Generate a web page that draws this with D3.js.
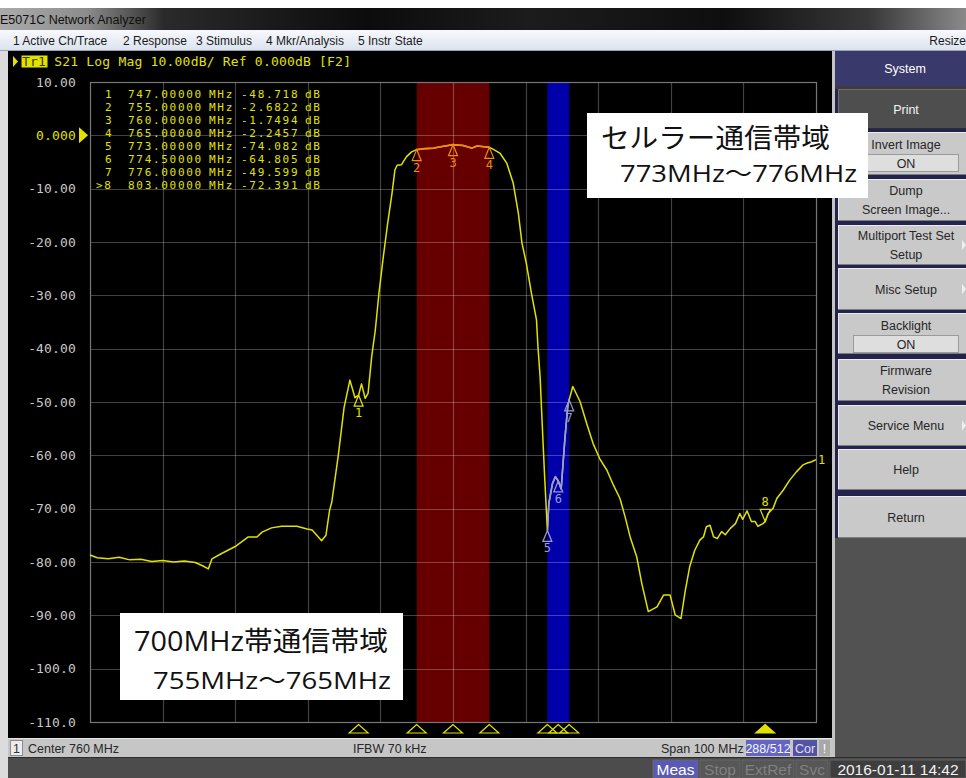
<!DOCTYPE html>
<html>
<head>
<meta charset="utf-8">
<script src="https://cdn.jsdelivr.net/npm/d3@7"></script>
<style>
  html, body { margin: 0; padding: 0; background: #ffffff; }
  svg { display: block; }
</style>
</head>
<body>
<svg id="screen" width="966" height="778"></svg>
<script>
// ---- S21 transmission trace (frequency in MHz, magnitude in dB) ----
const traceFreq = [710,711,712.5,714,715.5,717,718.5,720,721.5,723,724.5,725.5,726.3,726.8,728,730,731.8,733,733.7,735,
  736.4,738.5,739.9,740.6,741.9,742.5,743,743.3,744.2,745,745.8,746.5,747,747.4,747.9,748.3,748.8,749.3,749.8,750.4,
  751,751.6,752,752.3,752.9,753.6,754.3,755,756,757.3,758.5,760,761.4,762.6,763.3,765,765.5,766.5,767.4,768.3,
  769,769.5,770.1,770.8,771.5,771.7,772,772.2,772.6,773,773.2,773.7,774.1,774.5,774.9,775.4,775.8,776,776.5,777.5,
  778.4,779.3,780.2,781.2,782.1,783,783.7,784.4,785.3,786,786.9,788.1,789,789.9,790.6,791.4,792,792.6,793.3,794,
  794.5,794.9,795.4,795.9,796.4,797,797.5,798.2,798.9,799.5,799.9,800.5,801.1,801.6,802,802.7,803,803.4,804.1,804.6,
  805.5,806.4,807.3,808.2,808.7,809.4,810];
const traceDb = [-78.7,-79.2,-79.4,-79.1,-79.6,-79.5,-79.9,-79.7,-80.0,-79.8,-80.1,-80.7,-81.3,-79.4,-78.5,-77.1,-75.3,-75.3,-74.4,-73.6,
  -73.3,-73.3,-73.8,-74.0,-76.0,-75.0,-70.3,-68.8,-60.0,-51.0,-45.9,-49.2,-48.718,-46.6,-49.3,-48.4,-41.5,-36.5,-29.6,-22.8,
  -16.5,-10.9,-6.5,-5.6,-5.5,-4.0,-3.1,-2.6822,-2.5,-2.4,-2.1,-1.7494,-1.9,-2.4,-2.0,-2.2457,-2.6,-3.4,-5.2,-9.0,
  -14.6,-20.2,-24.0,-29.6,-34.6,-39.6,-45.3,-51.5,-63.4,-74.082,-69.0,-65.3,-64.0,-64.805,-66.3,-57.1,-50.9,-49.599,-47.1,-49.9,
  -54.0,-57.8,-60.6,-62.8,-65.6,-68.1,-71.5,-75.3,-79.0,-84.0,-89.3,-88.4,-86.2,-86.2,-89.9,-90.6,-85.3,-80.9,-77.8,-75.9,
  -75.3,-73.4,-73.1,-75.3,-75.6,-74.3,-74.9,-73.7,-72.8,-70.9,-72.0,-70.4,-72.4,-72.4,-73.3,-72.8,-72.391,-70.9,-69.9,-68.1,
  -66.5,-64.6,-63.1,-61.8,-61.5,-61.2,-60.8];

// ---- markers ----
const markerIds = ["1", "2", "3", "4", "5", "6", "7", "8"];
const markerFreq = [747, 755, 760, 765, 773, 774.5, 776, 803];
const markerDb = [-48.718, -2.6822, -1.7494, -2.2457, -74.082, -64.805, -49.599, -72.391];
const markerFreqText = ["747.00000", "755.00000", "760.00000", "765.00000", "773.00000", "774.50000", "776.00000", "803.00000"];
const markerDbText = ["-48.718", "-2.6822", "-1.7494", "-2.2457", "-74.082", "-64.805", "-49.599", "-72.391"];
const activeMarker = "8";

// ---- axes ----
const xTicks = [710, 720, 730, 740, 750, 760, 770, 780, 790, 800, 810];
const yTicks = [10, 0, -10, -20, -30, -40, -50, -60, -70, -80, -90, -100, -110];
const yTickLabels = ["10.00", "0.000", "-10.00", "-20.00", "-30.00", "-40.00", "-50.00", "-60.00", "-70.00", "-80.00", "-90.00", "-100.0", "-110.0"];

// ---- highlighted frequency bands (MHz) ----
const bandNames = ["700MHz帯通信帯域", "セルラー通信帯域"];
const bandStart = [755, 773];
const bandEnd = [765, 776];

// ---- instrument texts ----
const menuItems = ["1 Active Ch/Trace", "2 Response", "3 Stimulus", "4 Mkr/Analysis", "5 Instr State"];
const headerText = "S21 Log Mag 10.00dB/ Ref 0.000dB [F2]";
const statusTexts = ["Center 760 MHz", "IFBW 70 kHz", "Span 100 MHz"];

const svg = d3.select("#screen");
const W = 966, H = 778;
const MONO = "'DejaVu Sans Mono', 'Liberation Mono', monospace";
const UI = "'Liberation Sans', Arial, sans-serif";
const TRACE = "#e2e200";
const BAND_FILL = ["#660000", "#0000aa"];     // band backgrounds
const BAND_TRACE = ["#f08a10", "#9c9cd0"];    // trace colour seen through each band

const defs = svg.append("defs");
const tg = defs.append("linearGradient").attr("id", "titleGrad").attr("x1", 0).attr("x2", 1).attr("y1", 0).attr("y2", 0);
[[0, "#ababab"], [0.09, "#8c8c8c"], [0.17, "#2a2a2a"], [0.38, "#0c0c0c"], [0.55, "#1c1c1c"], [0.75, "#0e0e0e"], [0.9, "#383838"], [1, "#8a8a8a"]]
  .forEach(([o, c]) => tg.append("stop").attr("offset", o).attr("stop-color", c));
const mg = defs.append("linearGradient").attr("id", "menuGrad").attr("x1", 0).attr("x2", 0).attr("y1", 0).attr("y2", 1);
[[0, "#f7f9fd"], [1, "#dce3ee"]].forEach(([o, c]) => mg.append("stop").attr("offset", o).attr("stop-color", c));

// ---------- window chrome ----------
svg.append("rect").attr("x", 0).attr("y", 0).attr("width", W).attr("height", H).attr("fill", "#dcdcdc");
svg.append("rect").attr("x", 0).attr("y", 0).attr("width", W).attr("height", 8).attr("fill", "#ffffff");
svg.append("rect").attr("x", 0).attr("y", 8).attr("width", W).attr("height", 22).attr("fill", "url(#titleGrad)");
svg.append("text").attr("x", 0).attr("y", 24).attr("font-family", UI).attr("font-size", 12.5)
  .attr("fill", "#101010").text("E5071C Network Analyzer");

svg.append("rect").attr("x", 0).attr("y", 30).attr("width", W).attr("height", 20).attr("fill", "url(#menuGrad)");
svg.append("line").attr("x1", 0).attr("x2", W).attr("y1", 50.5).attr("y2", 50.5).attr("stroke", "#9aa3b3");
const menuX = [13, 123, 196, 266, 358];
svg.append("g").selectAll("text").data(menuItems).join("text")
  .attr("x", (d, i) => menuX[i]).attr("y", 45).attr("font-family", UI).attr("font-size", 12)
  .attr("fill", "#1a1a1a").text(d => d);
svg.append("text").attr("x", 966).attr("y", 45).attr("text-anchor", "end").attr("font-family", UI)
  .attr("font-size", 12).attr("fill", "#1a1a1a").text("Resize");

// ---------- display area ----------
svg.append("rect").attr("x", 8).attr("y", 51).attr("width", 824).attr("height", 687).attr("fill", "#000000");
svg.append("rect").attr("x", 832).attr("y", 51).attr("width", 3).attr("height", 707).attr("fill", "#c4c4c4");

// header line
const hdr = svg.append("g");
hdr.append("path").attr("d", "M13,56 L18,61.5 L13,67 Z").attr("fill", TRACE);
hdr.append("rect").attr("x", 21.5).attr("y", 55.5).attr("width", 26).attr("height", 12).attr("fill", TRACE);
hdr.append("text").attr("x", 22).attr("y", 66).attr("font-family", MONO).attr("font-size", 13)
  .attr("letter-spacing", 0.2).attr("fill", "#3a3a00").text("Tr1");
hdr.append("text").attr("x", 54.2).attr("y", 66).attr("font-family", MONO).attr("font-size", 13)
  .attr("letter-spacing", 0.2).attr("fill", TRACE).text(headerText);

// scales
const x = d3.scaleLinear().domain([710, 810]).range([90, 816]);
const y = d3.scaleLinear().domain([10, -110]).range([82, 722]);

// highlighted bands (under the graticule and trace)
svg.append("g").selectAll("rect").data(bandStart).join("rect")
  .attr("x", d => x(d)).attr("width", (d, i) => x(bandEnd[i]) - x(d))
  .attr("y", y(10) + 1).attr("height", y(-110) - y(10) - 1)
  .attr("fill", (d, i) => BAND_FILL[i]);

// grid
const grid = svg.append("g");
grid.selectAll("line.v").data(xTicks.slice(1, -1)).join("line").attr("class", "v")
  .attr("x1", d => Math.round(x(d)) + 0.5).attr("x2", d => Math.round(x(d)) + 0.5)
  .attr("y1", y(10)).attr("y2", y(-110)).attr("stroke", "#ffffff").attr("stroke-opacity", 0.26).attr("stroke-width", 1.2);
grid.selectAll("line.h").data(yTicks.slice(1, -1)).join("line").attr("class", "h")
  .attr("x1", x(710)).attr("x2", x(810))
  .attr("y1", d => Math.round(y(d)) + 0.5).attr("y2", d => Math.round(y(d)) + 0.5)
  .attr("stroke", "#ffffff").attr("stroke-opacity", 0.26).attr("stroke-width", 1.2);
grid.append("rect").attr("x", x(710) + 0.5).attr("y", y(10) + 0.5)
  .attr("width", x(810) - x(710)).attr("height", y(-110) - y(10))
  .attr("fill", "none").attr("stroke", "#777777").attr("stroke-width", 1.2);

// y axis labels
const yAxis = d3.axisLeft(y).tickValues(yTicks).tickFormat((d, i) => yTickLabels[i]).tickSize(0).tickPadding(14);
const yg = svg.append("g").attr("transform", `translate(${x(710)},0)`).call(yAxis);
yg.select(".domain").remove();
yg.selectAll("text").attr("font-family", MONO).attr("font-size", 13).attr("letter-spacing", 0.15)
  .attr("fill", d => d === 0 ? TRACE : "#c8c8c8");
// reference level pointer
svg.append("path").attr("d", `M79,${y(0) - 8} L88,${y(0)} L79,${y(0) + 8} Z`).attr("fill", TRACE);

// marker table
const table = svg.append("g").attr("font-family", MONO).attr("font-size", 11).attr("letter-spacing", 1.7).attr("fill", TRACE);
markerIds.forEach((id, i) => {
  const ty = 98 + i * 13;
  const row = table.append("text").attr("y", ty);
  row.append("tspan").attr("x", id === activeMarker ? 96 : 105).text(id === activeMarker ? ">" + id : id);
  row.append("tspan").attr("x", 128).text(markerFreqText[i]);
  row.append("tspan").attr("x", 209).text("MHz");
  row.append("tspan").attr("x", 241).text(markerDbText[i]);
  row.append("tspan").attr("x", 305).text("dB");
});

// trace, then the parts inside each band re-drawn in the tinted colour
const pts = traceFreq.map((f, i) => [f, traceDb[i]]);
const line = d3.line().x(d => x(d[0])).y(d => y(d[1]));
svg.append("path").datum(pts)
  .attr("d", line).attr("fill", "none").attr("stroke", TRACE).attr("stroke-width", 1.5)
  .attr("stroke-linejoin", "round");
bandStart.forEach((b, i) => {
  defs.append("clipPath").attr("id", "bandClip" + i).append("rect")
    .attr("x", x(b)).attr("width", x(bandEnd[i]) - x(b)).attr("y", y(10)).attr("height", y(-110) - y(10));
  svg.append("path").datum(pts).attr("clip-path", `url(#bandClip${i})`)
    .attr("d", line).attr("fill", "none").attr("stroke", BAND_TRACE[i]).attr("stroke-width", 1.6)
    .attr("stroke-linejoin", "round");
});
svg.append("text").attr("x", x(810) + 2).attr("y", y(traceDb[traceDb.length - 1]) + 4)
  .attr("font-family", MONO).attr("font-size", 12).attr("fill", TRACE).text("1");

// markers on the trace
function markerColor(f) {
  for (let i = 0; i < bandStart.length; i++) if (f >= bandStart[i] && f <= bandEnd[i]) return BAND_TRACE[i];
  return TRACE;
}
markerIds.forEach((id, i) => {
  const mx = x(markerFreq[i]), my = y(markerDb[i]);
  const c = markerColor(markerFreq[i]);
  if (id === activeMarker) {
    svg.append("path").attr("d", `M${mx},${my} L${mx - 5},${my - 12} L${mx + 5},${my - 12} Z`)
      .attr("fill", "none").attr("stroke", c).attr("stroke-width", 1.2);
    svg.append("text").attr("x", mx).attr("y", my - 15).attr("text-anchor", "middle")
      .attr("font-family", MONO).attr("font-size", 12).attr("fill", c).text(id);
  } else {
    svg.append("path").attr("d", `M${mx},${my} L${mx - 4.5},${my + 11} L${mx + 4.5},${my + 11} Z`)
      .attr("fill", "none").attr("stroke", c).attr("stroke-width", 1.2);
    svg.append("text").attr("x", mx).attr("y", my + 22).attr("text-anchor", "middle")
      .attr("font-family", MONO).attr("font-size", 12).attr("fill", c).text(id);
  }
});

// marker position indicators below the graticule
const ind = svg.append("g").attr("stroke", TRACE).attr("stroke-width", 1.2);
markerIds.forEach((id, i) => {
  const mx = x(markerFreq[i]);
  ind.append("path").attr("d", `M${mx},724.5 L${mx - 9.5},733 L${mx + 9.5},733 Z`)
    .attr("fill", id === activeMarker ? TRACE : "none");
});

// ---------- status bar ----------
svg.append("rect").attr("x", 8).attr("y", 738).attr("width", 824).attr("height", 19).attr("fill", "#c6c6c6");
svg.append("line").attr("x1", 8).attr("x2", 832).attr("y1", 738.5).attr("y2", 738.5).attr("stroke", "#e6e6e6");
svg.append("rect").attr("x", 10.5).attr("y", 740.5).attr("width", 12).attr("height", 15).attr("fill", "#ececec").attr("stroke", "#8c8c8c");
svg.append("text").attr("x", 16.5).attr("y", 752.5).attr("text-anchor", "middle").attr("font-family", UI)
  .attr("font-size", 12.5).attr("fill", "#333").text("1");
const statusX = [28, 353, 661];
svg.append("g").selectAll("text").data(statusTexts).join("text")
  .attr("x", (d, i) => statusX[i]).attr("y", 752.5).attr("font-family", UI).attr("font-size", 12.5)
  .attr("fill", "#262626").text(d => d);
svg.append("rect").attr("x", 746).attr("y", 740).attr("width", 44).attr("height", 16).attr("fill", "#6464c4");
svg.append("text").attr("x", 768).attr("y", 752.5).attr("text-anchor", "middle").attr("font-family", UI)
  .attr("font-size", 12.5).attr("fill", "#f4f4ff").text("288/512");
svg.append("rect").attr("x", 793).attr("y", 740).attr("width", 24).attr("height", 16).attr("fill", "#5252a6");
svg.append("text").attr("x", 805).attr("y", 752.5).attr("text-anchor", "middle").attr("font-family", UI)
  .attr("font-size", 12.5).attr("fill", "#e0e0f0").text("Cor");
svg.append("rect").attr("x", 819).attr("y", 740).attr("width", 11).attr("height", 16).attr("fill", "#a8a8a8");
svg.append("text").attr("x", 824.5).attr("y", 752.5).attr("text-anchor", "middle").attr("font-family", UI)
  .attr("font-size", 12.5).attr("fill", "#ffffff").text("!");

// bottom instrument bar
svg.append("rect").attr("x", 835).attr("y", 538).attr("width", 131).attr("height", 220).attr("fill", "#525252");
svg.append("rect").attr("x", 8).attr("y", 757).attr("width", 958).attr("height", 21).attr("fill", "#4c4c4c");
svg.append("line").attr("x1", 8).attr("x2", 966).attr("y1", 757.5).attr("y2", 757.5).attr("stroke", "#2c2c2c");
const bottomItems = [
  { t: "Meas", x0: 653, x1: 698, bg: "#5a5ab4", fg: "#ffffff" },
  { t: "Stop", x0: 700, x1: 740, bg: "#575757", fg: "#808080" },
  { t: "ExtRef", x0: 742, x1: 794, bg: "#575757", fg: "#808080" },
  { t: "Svc", x0: 796, x1: 828, bg: "#575757", fg: "#808080" },
  { t: "2016-01-11 14:42", x0: 830, x1: 966, bg: "#3e3e3e", fg: "#f2f2f2" }
];
bottomItems.forEach(b => {
  svg.append("rect").attr("x", b.x0).attr("y", 760).attr("width", b.x1 - b.x0).attr("height", 18)
    .attr("fill", b.bg).attr("stroke", "#6a6a6a").attr("stroke-width", 0.8);
  svg.append("text").attr("x", (b.x0 + b.x1) / 2).attr("y", 775).attr("text-anchor", "middle")
    .attr("font-family", UI).attr("font-size", 15.5).attr("fill", b.fg).text(b.t);
});

// ---------- softkey panel ----------
const panel = svg.append("g");
panel.append("rect").attr("x", 835).attr("y", 51).attr("width", 131).attr("height", 487).attr("fill", "#23234e");
panel.append("rect").attr("x", 835).attr("y", 51).attr("width", 131).attr("height", 35).attr("fill", "#39396c");
panel.append("text").attr("x", 905).attr("y", 73).attr("text-anchor", "middle").attr("font-family", UI)
  .attr("font-size", 12.5).attr("fill", "#ffffff").text("System");
panel.append("rect").attr("x", 835).attr("y", 86).attr("width", 131).attr("height", 3).attr("fill", "#3c3c3c");

const softkeys = [
  { y0: 89, y1: 129, lines: ["Print"], dark: true },
  { y0: 132, y1: 175, lines: ["Invert Image"], toggle: "ON" },
  { y0: 179, y1: 221, lines: ["Dump", "Screen Image..."] },
  { y0: 225, y1: 265, lines: ["Multiport Test Set", "Setup"], arrow: true },
  { y0: 268, y1: 310, lines: ["Misc Setup"], arrow: true },
  { y0: 313, y1: 354, lines: ["Backlight"], toggle: "ON" },
  { y0: 359, y1: 401, lines: ["Firmware", "Revision"] },
  { y0: 405, y1: 446, lines: ["Service Menu"], arrow: true },
  { y0: 449, y1: 490, lines: ["Help"] },
  { y0: 496, y1: 538, lines: ["Return"] }
];
softkeys.forEach(k => {
  const g = panel.append("g");
  g.append("rect").attr("x", 838).attr("y", k.y0).attr("width", 128).attr("height", k.y1 - k.y0)
    .attr("fill", k.dark ? "#4e4e4e" : "#c9c9c9");
  g.append("line").attr("x1", 838).attr("x2", 966).attr("y1", k.y0 + 0.5).attr("y2", k.y0 + 0.5)
    .attr("stroke", k.dark ? "#6e6e6e" : "#ececec");
  g.append("line").attr("x1", 838.5).attr("x2", 838.5).attr("y1", k.y0).attr("y2", k.y1)
    .attr("stroke", k.dark ? "#6e6e6e" : "#ececec");
  g.append("line").attr("x1", 838).attr("x2", 966).attr("y1", k.y1 - 0.5).attr("y2", k.y1 - 0.5)
    .attr("stroke", k.dark ? "#2e2e2e" : "#7c7c7c");
  const col = k.dark ? "#f4f4f4" : "#262626";
  const mid = (k.y0 + k.y1) / 2;
  if (k.toggle) {
    g.append("text").attr("x", 906).attr("y", k.y0 + 17).attr("text-anchor", "middle")
      .attr("font-family", UI).attr("font-size", 12.5).attr("fill", col).text(k.lines[0]);
    g.append("rect").attr("x", 853.5).attr("y", k.y0 + 22.5).attr("width", 105).attr("height", 17)
      .attr("fill", "#dedede").attr("stroke", "#9a9a9a");
    g.append("text").attr("x", 906).attr("y", k.y0 + 35.5).attr("text-anchor", "middle")
      .attr("font-family", UI).attr("font-size", 12.5).attr("fill", col).text(k.toggle);
  } else if (k.lines.length === 2) {
    k.lines.forEach((t, j) => g.append("text").attr("x", 906).attr("y", mid - 5 + j * 18.5)
      .attr("text-anchor", "middle").attr("font-family", UI).attr("font-size", 12.5).attr("fill", col).text(t));
  } else {
    g.append("text").attr("x", 906).attr("y", mid + 4.5).attr("text-anchor", "middle")
      .attr("font-family", UI).attr("font-size", 12.5).attr("fill", col).text(k.lines[0]);
  }
  if (k.arrow) {
    g.append("path").attr("d", `M962,${mid - 5} L966,${mid} L962,${mid + 5} Z`).attr("fill", "#efefef");
  }
});

// ---------- band captions ----------
const JP = "'Open Sans', 'Noto Sans CJK JP', sans-serif";
const captions = [
  { x0: 120, y0: 613, x1: 403, y1: 700, l1: bandNames[0], l1x: 134, l1w: 254, l2x: 153, l2w: 238, b1: 651, b2: 689,
    l2: `${bandStart[0]}MHz〜${bandEnd[0]}MHz` },
  { x0: 587, y0: 113, x1: 868, y1: 198, l1: bandNames[1], l1x: 601, l1w: 229, l2x: 620, l2w: 237, b1: 148, b2: 182,
    l2: `${bandStart[1]}MHz〜${bandEnd[1]}MHz` }
];
captions.forEach(c => {
  svg.append("rect").attr("x", c.x0).attr("y", c.y0).attr("width", c.x1 - c.x0).attr("height", c.y1 - c.y0)
    .attr("fill", "#ffffff");
  svg.append("text").attr("x", c.l1x).attr("y", c.b1).attr("font-family", JP).attr("font-size", 27)
    .attr("fill", "#111111").attr("textLength", c.l1w).attr("lengthAdjust", "spacingAndGlyphs").text(c.l1);
  svg.append("text").attr("x", c.l2x).attr("y", c.b2).attr("font-family", JP).attr("font-size", 24)
    .attr("fill", "#111111").attr("textLength", c.l2w).attr("lengthAdjust", "spacingAndGlyphs").text(c.l2);
});
</script>
</body>
</html>
